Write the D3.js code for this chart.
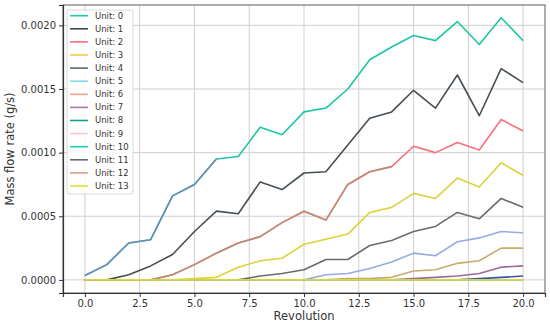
<!DOCTYPE html>
<html>
<head>
<meta charset="utf-8">
<script src="https://cdn.jsdelivr.net/npm/d3@7"></script>
<style>
  body { margin: 0; background: #fff; }
  text { font-family: "DejaVu Sans", sans-serif; fill: #333; }
</style>
</head>
<body>
<div id="chart"></div>
<script>
const revolutions = d3.range(0, 21);
const units = ["Unit: 0","Unit: 1","Unit: 2","Unit: 3","Unit: 4","Unit: 5","Unit: 6",
               "Unit: 7","Unit: 8","Unit: 9","Unit: 10","Unit: 11","Unit: 12","Unit: 13"];
const legendColors = ["#1ec9a8","#3b4a52","#ff6f7a","#f5c842","#5a6b6b","#7fdbe6","#ffa08f",
                      "#b07aa8","#14a08a","#f8c8cf","#1fd0b0","#5f6f77","#d8a088","#e8d840"];
const lineColors = ["#1cc6a6","#454f55","#f8707a","#dcd23c","#6b6b6b","#94acdf","#c8aa70",
                    "#9a6a9c","#3556b0","#f8c8cf","#1fd0b0","#6c8cb8","#b89078","#d8d444"];

const unit0 = [0.000035,0.00012,0.00029,0.000316,0.00066,0.00075,0.00095,0.00097,0.0012,0.00114,0.00132,
               0.00135,0.0015,0.00173,0.00183,0.00192,0.00188,0.00203,0.00185,0.00206,0.00188];
const unit1 = [0,0,0.00004,0.00011,0.0002,0.00038,0.00054,0.00052,0.00077,0.00071,0.00084,
               0.00085,0.00106,0.00127,0.00132,0.00149,0.00135,0.00161,0.00129,0.00166,0.00155];
const unit2 = [0,0,0,0,0.00004,0.00012,0.00021,0.00029,0.00034,0.00045,0.00054,
               0.00047,0.00075,0.00085,0.00089,0.00105,0.001,0.00108,0.00102,0.00126,0.00117];
const unit3 = [0,0,0,0,0,0.00001,0.00002,0.0001,0.00015,0.00017,0.00028,
               0.00032,0.00036,0.00053,0.00057,0.00068,0.00064,0.0008,0.00073,0.00092,0.00082];
const unit4 = [0,0,0,0,0,0,0,0,0.00003,0.00005,0.00008,
               0.00016,0.00016,0.00027,0.00031,0.00038,0.00042,0.00053,0.00048,0.00064,0.00057];
const unit5 = [0,0,0,0,0,0,0,0,0,0,0,
               0.00004,0.00005,0.00009,0.00014,0.00021,0.00019,0.0003,0.00033,0.00038,0.00037];
const unit6 = [0,0,0,0,0,0,0,0,0,0,0,
               0,0.00001,0.00001,0.00002,0.00007,0.00008,0.00013,0.00015,0.00025,0.00025];
const unit7 = [0,0,0,0,0,0,0,0,0,0,0,
               0,0,0,0,0.00001,0.00002,0.00003,0.00005,0.0001,0.00011];
const unit8 = [0,0,0,0,0,0,0,0,0,0,0,
               0,0,0,0,0,0,0,0.00001,0.00002,0.00003];
const unit9 = [0,0,0,0,0,0,0,0,0,0,0,0,0,0,0,0,0,0,0,0,0];
const unit10 = [0,0,0,0,0,0,0,0,0,0,0,0,0,0,0,0,0,0,0,0,0];
const unit11 = [0.000035,0.00012,0.00029,0.000316,0.00066,0.00075,0.00095,null,null,null,null,
                null,null,null,null,null,null,null,null,null,null];
const unit12 = [0,0,0,0,0.00004,0.00012,0.00021,0.00029,0.00034,0.00045,0.00054,
                0.00047,0.00075,0.00085,0.00089,null,null,null,null,null,null];
const unit13 = [0,0,0,0,0,0,0,0,0,0,0,0,0,0,0,0,0,0,0,0,0];

const allUnits = [unit0,unit1,unit2,unit3,unit4,unit5,unit6,unit7,unit8,unit9,unit10,unit11,unit12,unit13];

const xTicks = [0, 2.5, 5, 7.5, 10, 12.5, 15, 17.5, 20];
const yTicks = [0, 0.0005, 0.001, 0.0015, 0.002];

const width = 550, height = 326;
const margin = {top: 5, right: 5, bottom: 33, left: 63};

const svg = d3.select("#chart")
  .append("svg")
  .attr("width", width)
  .attr("height", height);

const x = d3.scaleLinear().domain([-1, 21]).range([margin.left, width - margin.right]);
const y = d3.scaleLinear().domain([-0.000103, 0.00216]).range([height - margin.bottom, margin.top]);

// grid
svg.append("g")
  .selectAll("line")
  .data(xTicks)
  .join("line")
  .attr("x1", d => x(d)).attr("x2", d => x(d))
  .attr("y1", margin.top).attr("y2", height - margin.bottom)
  .attr("stroke", "#cfcfcf").attr("stroke-width", 1);

svg.append("g")
  .selectAll("line")
  .data(yTicks)
  .join("line")
  .attr("x1", margin.left).attr("x2", width - margin.right)
  .attr("y1", d => y(d)).attr("y2", d => y(d))
  .attr("stroke", "#cfcfcf").attr("stroke-width", 1);

// lines
const line = d3.line()
  .defined(d => d[1] != null)
  .x(d => x(d[0]))
  .y(d => y(d[1]));

svg.append("g")
  .selectAll("path")
  .data(allUnits)
  .join("path")
  .attr("fill", "none")
  .attr("stroke", (d, i) => lineColors[i])
  .attr("stroke-width", 1.6)
  .attr("stroke-linejoin", "round")
  .attr("d", d => line(d.map((v, i) => [revolutions[i], v])));

// frame
svg.append("rect")
  .attr("x", margin.left).attr("y", margin.top)
  .attr("width", width - margin.left - margin.right)
  .attr("height", height - margin.top - margin.bottom)
  .attr("fill", "none").attr("stroke", "#777").attr("stroke-width", 1.2);

// axes
const xAxis = svg.append("g")
  .attr("transform", `translate(0,${height - margin.bottom})`)
  .call(d3.axisBottom(x).tickValues(xTicks).tickFormat(d3.format(".1f")).tickSizeOuter(0).tickSize(4).tickPadding(3));
const yAxis = svg.append("g")
  .attr("transform", `translate(${margin.left},0)`)
  .call(d3.axisLeft(y).tickValues(yTicks).tickFormat(d3.format(".4f")).tickSizeOuter(0).tickSize(4).tickPadding(3));

[xAxis, yAxis].forEach(g => {
  g.select(".domain").attr("stroke", "#333").attr("stroke-width", 1.2);
  g.selectAll(".tick line").attr("stroke", "#333");
  g.selectAll(".tick text").attr("font-size", 10).attr("font-family", "DejaVu Sans").attr("fill", "#333");
});

svg.append("text")
  .attr("x", (margin.left + width - margin.right) / 2)
  .attr("y", 320)
  .attr("text-anchor", "middle")
  .attr("font-size", 11.5)
  .text("Revolution");

svg.append("text")
  .attr("transform", `translate(14,${(margin.top + height - margin.bottom) / 2}) rotate(-90)`)
  .attr("text-anchor", "middle")
  .attr("font-size", 11.5)
  .text("Mass flow rate (g/s)");

// legend
const legend = svg.append("g");
legend.append("rect")
  .attr("x", 67).attr("y", 10)
  .attr("width", 66).attr("height", 184)
  .attr("rx", 2)
  .attr("fill", "#fff").attr("fill-opacity", 0.85)
  .attr("stroke", "#d8d8d8");

const rows = legend.selectAll("g")
  .data(units)
  .join("g")
  .attr("transform", (d, i) => `translate(0,${15.7 + i * 13.1})`);

rows.append("line")
  .attr("x1", 70).attr("x2", 88)
  .attr("stroke", (d, i) => legendColors[i])
  .attr("stroke-width", 1.6);

rows.append("text")
  .attr("x", 95)
  .attr("dy", "0.35em")
  .attr("font-size", 8.5)
  .text(d => d);
</script>
</body>
</html>
